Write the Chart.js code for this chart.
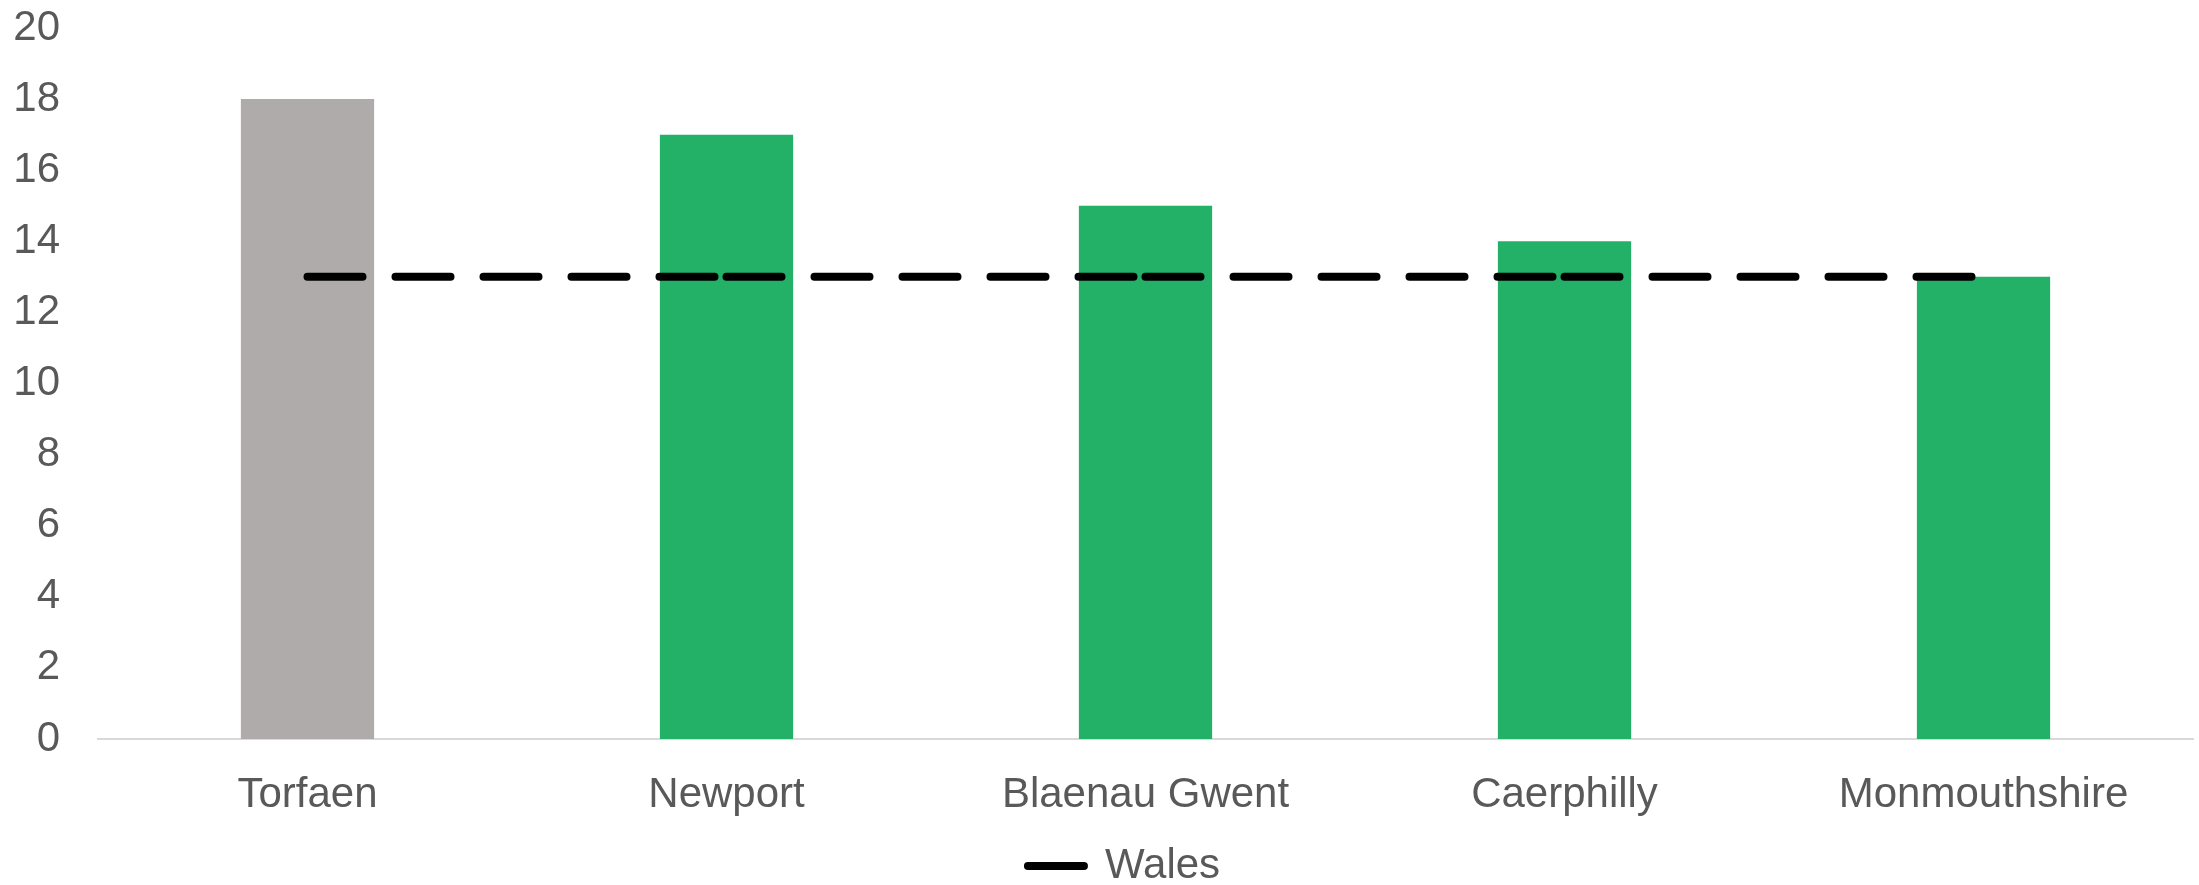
<!DOCTYPE html>
<html>
<head>
<meta charset="utf-8">
<script src="https://cdn.jsdelivr.net/npm/chart.js@4/dist/chart.umd.min.js"></script>
<style>
  html, body { margin: 0; padding: 0; background: #fff; overflow: hidden; }
  #clip { width: 2199px; height: 885px; overflow: hidden; }
  #wrap { width: 2199px; height: 897px; }
</style>
</head>
<body>
<div id="clip"><div id="wrap"><canvas id="chart"></canvas></div></div>
<script>
  const areas = ["Torfaen", "Newport", "Blaenau Gwent", "Caerphilly", "Monmouthshire"];
  const areaValues = [18, 17, 15, 14, 13];
  const areaColors = ["#AFABAB", "#23B067", "#23B067", "#23B067", "#23B067"];
  const walesValues = [13, 13, 13, 13, 13];
  const yTicks = [0, 2, 4, 6, 8, 10, 12, 14, 16, 18, 20];

  const TEXT = "#595959";
  const FONT = { family: "'Liberation Sans', Arial, sans-serif", size: 42 };
  const DASH = [55, 33];
  const DASH_PERIOD = DASH[0] + DASH[1];

  // the legend in the original sits a little right of the page centre
  const legendShift = {
    id: "legendShift",
    afterLayout(chart) {
      if (chart.legend) chart.legend.left = 55;
    },
  };

  new Chart(document.getElementById("chart"), {
    data: {
      labels: areas,
      datasets: [
        {
          type: "line",
          label: "Wales",
          data: walesValues,
          borderColor: "#000",
          backgroundColor: "#000",
          borderWidth: 8,
          borderDash: DASH,
          borderCapStyle: "round",
          pointRadius: 0,
          fill: false,
          order: 0,
          // restart the dash pattern at each category, like the original
          segment: { borderDashOffset: (ctx) => ctx.p0DataIndex * DASH_PERIOD },
        },
        {
          type: "bar",
          label: "Area",
          data: areaValues,
          backgroundColor: areaColors,
          barPercentage: 0.318,
          categoryPercentage: 1,
          order: 1,
        },
      ],
    },
    plugins: [legendShift],
    options: {
      responsive: true,
      maintainAspectRatio: false,
      animation: false,
      layout: { padding: { top: 0, right: 6, bottom: 0, left: 0 } },
      plugins: {
        tooltip: { enabled: false },
        legend: {
          position: "bottom",
          labels: {
            color: TEXT,
            font: FONT,
            usePointStyle: true,
            pointStyleWidth: 56,
            padding: 2,
            filter: (item) => item.text === "Wales",
            generateLabels(chart) {
              const items = Chart.defaults.plugins.legend.labels.generateLabels(chart);
              items.forEach((it) => {
                it.pointStyle = "line";
                it.lineDash = [];
                it.lineWidth = 8;
                it.lineCap = "round";
                it.strokeStyle = "#000";
              });
              return items;
            },
          },
        },
      },
      scales: {
        x: {
          grid: { display: false, drawTicks: false },
          border: { display: true, color: "#D9D9D9", width: 2 },
          ticks: { color: TEXT, font: FONT, padding: 31, maxRotation: 0 },
          afterFit: (s) => { s.height = 104; },
        },
        y: {
          min: 0,
          max: 20,
          afterBuildTicks: (s) => { s.ticks = yTicks.map((v) => ({ value: v })); },
          grid: { display: false, drawTicks: false },
          border: { display: false },
          ticks: { color: TEXT, font: FONT, padding: 38 },
          afterFit: (s) => { s.width = 98; s.paddingTop = 28; s.paddingBottom = 0; },
        },
      },
    },
  });
</script>
</body>
</html>
